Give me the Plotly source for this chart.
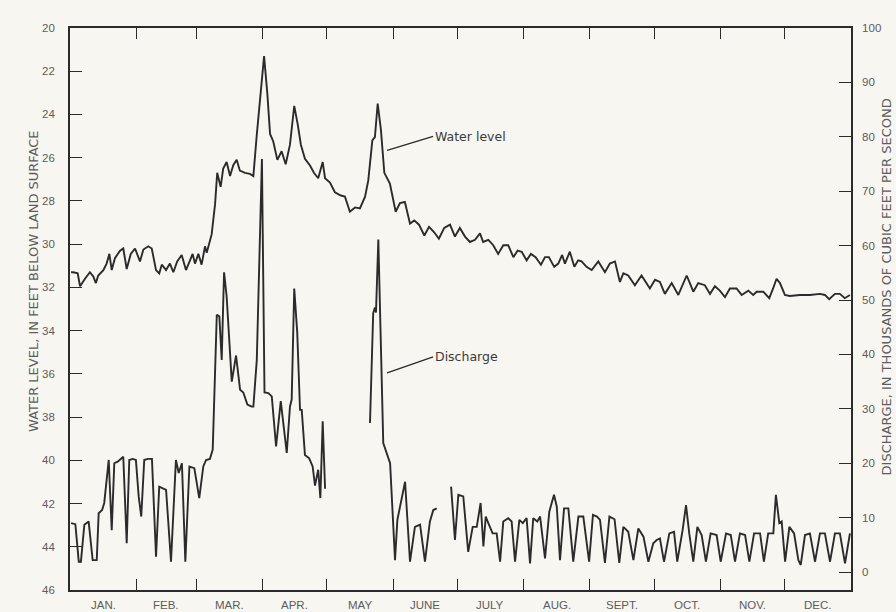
import plotly.graph_objects as go

# ---------------- data (day of year) ----------------
month_labels = ["JAN.", "FEB.", "MAR.", "APR.", "MAY", "JUNE", "JULY", "AUG.",
                "SEPT.", "OCT.", "NOV.", "DEC."]
month_days = [31, 28, 31, 30, 31, 30, 31, 31, 30, 31, 30, 31]

wl_day = [0.5, 1.5, 3.6, 4.7, 7.0, 9.3, 10.9, 12.1, 13.2, 15.6, 17.1, 18.4, 19.5, 21.0,
          23.4, 24.9, 26.5, 28.4, 30.4, 32.7, 34.3, 36.6, 38.2, 40.2, 41.7, 42.9, 44.9,
          46.7, 48.3, 50.1, 52.2, 54.2, 56.1, 57.3, 58.4, 60.0, 61.5, 63.1, 63.9, 65.4,
          66.2, 67.8, 68.8, 70.4, 71.6, 73.2, 74.8, 76.3, 77.9, 79.4, 81.8, 84.1, 85.7,
          87.2, 89.1, 90.7, 92.2, 93.5, 95.0, 96.9, 98.9, 100.8, 102.8, 104.8, 106.4,
          107.9, 109.8, 112.1, 114.0, 116.0, 118.1, 119.2, 121.5, 123.8, 126.6, 128.5,
          130.8, 133.2, 135.5, 137.9, 139.4, 141.3, 142.5, 143.8, 145.3, 146.9, 149.5,
          152.2, 154.2, 156.5, 158.9, 160.9, 163.1, 165.6, 167.8, 170.2, 172.4, 174.9,
          177.6, 179.9, 182.2, 184.6, 186.9, 189.3, 191.6, 193.1, 195.5, 197.8, 200.1,
          202.5, 204.8, 207.2, 209.2, 211.1, 213.4, 215.4, 217.6, 220.1, 222.0, 223.8,
          226.3, 228.2, 230.0, 231.3, 233.6, 235.7, 237.5, 239.1, 241.4, 243.8, 246.9,
          250.0, 252.3, 254.7, 257.0, 258.6, 260.9, 264.0, 267.1, 271.0, 273.4, 275.7,
          278.0, 281.2, 284.3, 288.2, 289.7, 291.3, 293.6, 296.7, 299.1, 301.4, 303.7,
          306.1, 308.4, 311.5, 313.9, 317.0, 319.3, 320.9, 324.0, 326.8, 328.6, 330.2,
          331.8, 334.1, 336.4, 341.1, 345.8, 350.5, 352.8, 354.8, 357.5, 359.8, 362.1,
          364.5]
water_level = [31.3, 31.3, 31.35, 31.95, 31.6, 31.3, 31.5, 31.8, 31.45, 31.2, 30.9, 30.45,
               31.2, 30.65, 30.3, 30.2, 31.15, 30.45, 30.2, 30.8, 30.25, 30.1, 30.2, 31.2,
               31.35, 30.95, 31.2, 30.9, 31.3, 30.8, 30.5, 31.2, 30.75, 30.45, 30.9, 30.45,
               30.95, 30.1, 30.4, 29.8, 29.55, 28.15, 26.7, 27.35, 26.5, 26.2, 26.85, 26.35,
               26.1, 26.6, 26.7, 26.75, 26.85, 25.05, 23.0, 21.3, 23.0, 24.9, 25.25, 26.1,
               25.7, 26.3, 25.4, 23.6, 24.45, 25.4, 26.05, 26.35, 26.7, 26.95, 26.2, 26.95,
               27.15, 27.6, 27.75, 27.8, 28.5, 28.3, 28.35, 27.8, 27.05, 25.2, 25.05, 23.5,
               24.7, 26.7, 27.2, 28.5, 28.1, 28.05, 29.05, 28.9, 29.1, 29.6, 29.2, 29.45,
               29.75, 29.25, 29.1, 29.65, 29.25, 29.65, 29.9, 29.8, 29.5, 29.9, 29.8, 30.05,
               30.45, 30.05, 30.05, 30.6, 30.3, 30.35, 30.75, 30.45, 30.6, 30.95, 30.6, 30.6,
               31.05, 30.9, 30.5, 30.9, 30.35, 31.05, 30.75, 30.8, 31.05, 31.2, 30.8, 31.3,
               30.9, 30.8, 31.75, 31.35, 31.45, 31.9, 31.45, 32.05, 31.65, 31.75, 32.3, 31.8,
               32.35, 31.45, 31.8, 32.2, 31.8, 31.9, 32.3, 31.95, 32.15, 32.45, 32.05, 32.05,
               32.35, 32.15, 32.35, 32.2, 32.2, 32.5, 32.05, 31.6, 31.8, 32.35, 32.4, 32.35,
               32.35, 32.3, 32.35, 32.55, 32.3, 32.3, 32.5, 32.35]

# discharge, thousands of cubic feet per second (None = gap in record)
q_day = [0.5, 2.5, 4.1, 5.1, 6.7, 8.7, 10.6, 12.5, 13.4, 15.0, 16.0, 18.1, 19.5, 20.7,
         22.3, 23.8, 24.9, 26.5, 27.7, 29.3, 30.8, 32.1, 33.3, 34.7, 36.3, 38.3, 40.2,
         41.7, 43.3, 44.9, 47.2, 49.5, 50.8, 52.3, 53.9, 55.8, 58.1, 60.4, 62.3, 63.6,
         65.4, 66.7, 68.6, 69.8, 70.9, 72.0, 73.2, 75.6, 77.6, 79.5, 81.0, 82.9, 84.9,
         85.7, 87.3, 89.7, 90.9, 92.7, 94.3, 96.3, 98.5, 101.3, 102.8, 103.6, 104.8,
         106.2, 107.5, 108.3, 109.8, 111.8, 113.4, 114.5, 116.0, 117.0, 118.1, 119.2,
         130.0,
         140.2, 141.7, 142.5, 143.0, 144.1, 146.4, 149.6, 151.9, 153.0, 156.6, 158.9,
         161.2, 163.6, 165.9, 168.2, 169.8, 171.4,
         175.0,
         178.1, 179.9, 181.5, 183.8, 186.1, 188.2, 190.1, 191.9, 193.2, 194.3, 195.5,
         197.5, 199.4, 201.0, 202.5, 204.8, 206.4, 208.0, 210.0, 211.6, 213.4, 215.0,
         216.5, 218.4, 219.7, 222.0, 224.0, 226.2, 227.5, 229.0, 230.9, 232.9, 235.2,
         237.6, 239.9, 242.6, 244.4, 246.3, 247.7, 250.0, 252.1, 254.5, 256.7, 258.6,
         260.9, 263.3, 265.6, 268.0, 270.3, 272.6, 274.2, 275.7, 277.6, 280.1, 282.3,
         283.8, 286.3, 287.9, 289.4, 291.3, 293.2, 295.2, 297.2, 299.4, 302.2, 304.1,
         306.6, 308.8, 310.8, 313.1, 315.5, 317.5, 319.7, 322.5, 324.3, 326.3, 328.7,
         329.9, 331.5, 332.6, 334.2, 336.2, 338.4, 340.4, 341.5, 343.5, 345.8, 348.2,
         350.5, 352.8, 355.2, 357.5, 359.8, 362.2, 364.5]
discharge = [9.0, 8.8, 1.9, 1.9, 8.7, 9.3, 2.2, 2.2, 10.8, 11.4, 12.7, 20.6, 7.7, 20.0,
             20.3, 20.9, 21.2, 5.3, 20.6, 20.8, 20.6, 13.9, 10.2, 20.6, 20.8, 20.8, 2.8,
             15.7, 15.4, 15.1, 1.9, 20.6, 18.2, 20.0, 1.9, 19.4, 19.1, 13.6, 19.4, 20.6,
             20.8, 22.5, 47.3, 47.0, 39.0, 55.1, 50.7, 35.0, 39.8, 33.5, 33.0, 30.8, 30.4,
             30.4, 39.0, 75.9, 33.0, 32.9, 32.3, 23.1, 31.4, 21.9, 30.4, 31.7, 52.1,
             44.0, 29.8, 29.8, 21.5, 20.9, 19.4, 15.9, 18.8, 13.6, 27.7, 15.3,
             None,
             27.4, 47.6, 48.6, 47.7, 61.1, 23.7, 20.0, 2.2, 9.6, 16.6, 1.9,
             8.3, 8.7, 1.9, 9.3, 11.4, 11.7,
             None,
             15.7, 5.9, 14.2, 13.9, 3.7, 8.3, 8.3, 12.7, 4.7, 10.2, 9.0,
             7.1, 7.1, 1.9, 9.3, 9.9, 9.3, 1.9, 9.6, 9.0, 9.9, 1.6,
             9.9, 9.3, 10.2, 2.5, 11.1, 14.2, 12.0, 2.2, 11.7, 11.7, 1.9,
             10.2, 10.2, 1.9, 10.5, 10.2, 9.6, 1.7, 10.2, 9.7, 1.7, 8.3,
             7.4, 2.2, 8.0, 6.5, 1.9, 5.3, 5.9, 6.2, 1.9, 7.1, 7.4,
             1.9, 7.7, 12.3, 7.1, 1.9, 8.3, 6.8, 1.9, 7.1, 6.8, 1.9,
             7.1, 6.8, 1.9, 7.1, 6.8, 1.9, 7.1, 7.1, 1.9, 7.1, 7.1,
             14.2, 9.0, 9.3, 1.9, 8.3, 7.1, 2.2, 1.3, 6.8, 7.1, 1.9,
             7.1, 7.1, 1.9, 7.1, 7.1, 1.6, 7.1]

wl_ticks = list(range(20, 47, 2))
q_ticks = list(range(0, 101, 10))

# ---------------- styling ----------------
BG = "#f8f6f1"
INK = "#2b2b2b"
TXT = "#5c5c5c"
FONT = "Liberation Sans"

month_start = [sum(month_days[:i]) for i in range(1, 12)]
month_mid = [sum(month_days[:i]) + month_days[i] / 2 for i in range(12)]

fig = go.Figure()
fig.add_trace(go.Scatter(x=wl_day, y=water_level, mode="lines",
                         line=dict(color=INK, width=1.9), yaxis="y",
                         hoverinfo="skip", showlegend=False))
fig.add_trace(go.Scatter(x=q_day, y=discharge, mode="lines", connectgaps=False,
                         line=dict(color=INK, width=1.9), yaxis="y2",
                         hoverinfo="skip", showlegend=False))

annotations = []
for lab, mid in zip(month_labels, month_mid):
    annotations.append(dict(x=mid, y=0, xref="x", yref="paper", text=lab,
                            showarrow=False, yanchor="top", yshift=-7,
                            font=dict(family=FONT, size=11.5, color=TXT)))

annotations.append(dict(x=-0.046, y=0.55, xref="paper", yref="paper",
                        xanchor="center", yanchor="middle",
                        text="WATER LEVEL, IN FEET BELOW LAND SURFACE",
                        textangle=-90, showarrow=False,
                        font=dict(family="DejaVu Sans", size=13, color=TXT)))
annotations.append(dict(x=1.046, y=0.54, xref="paper", yref="paper",
                        xanchor="center", yanchor="middle",
                        text="DISCHARGE, IN THOUSANDS OF CUBIC FEET PER SECOND",
                        textangle=-90, showarrow=False,
                        font=dict(family="DejaVu Sans", size=13, color=TXT)))

annotations.append(dict(x=148.2, y=25.66, xref="x", yref="y", text="Water level",
                        showarrow=True, arrowhead=0, arrowwidth=1.3, arrowcolor=INK,
                        ax=46, ay=-14, xanchor="left", yanchor="middle",
                        font=dict(family="DejaVu Sans", size=12.5, color="#3a3a3a")))
annotations.append(dict(x=148.2, y=36.6, xref="x", yref="y2", text="Discharge",
                        showarrow=True, arrowhead=0, arrowwidth=1.3, arrowcolor=INK,
                        ax=46, ay=-16, xanchor="left", yanchor="middle",
                        font=dict(family="DejaVu Sans", size=12.5, color="#3a3a3a")))

fig.update_layout(
    width=896, height=612,
    margin=dict(l=70, r=45, t=28, b=22),
    paper_bgcolor=BG, plot_bgcolor=BG,
    showlegend=False,
    annotations=annotations,
    xaxis=dict(range=[0, 365], tickvals=month_start, showticklabels=False,
               ticks="inside", ticklen=11, tickwidth=1.3, tickcolor=INK,
               showline=True, linecolor=INK, linewidth=1.6, mirror="ticks",
               showgrid=False, zeroline=False, fixedrange=True),
    yaxis=dict(range=[46, 20], tickvals=wl_ticks, ticks="inside", ticklen=12,
               tickwidth=1.3, tickcolor=INK, showline=True, linecolor=INK,
               linewidth=1.6, showgrid=False, zeroline=False,
               ticklabelstandoff=11,
               tickfont=dict(family=FONT, size=11.5, color=TXT)),
    yaxis2=dict(range=[-3.3, 100], tickvals=q_ticks, overlaying="y", side="right",
                ticks="inside", ticklen=12, tickwidth=1.3, tickcolor=INK,
                showline=True, linecolor=INK, linewidth=1.6, showgrid=False,
                zeroline=False, ticklabelstandoff=7,
                tickfont=dict(family=FONT, size=11.5, color=TXT)),
)

fig.write_html("out.html")
